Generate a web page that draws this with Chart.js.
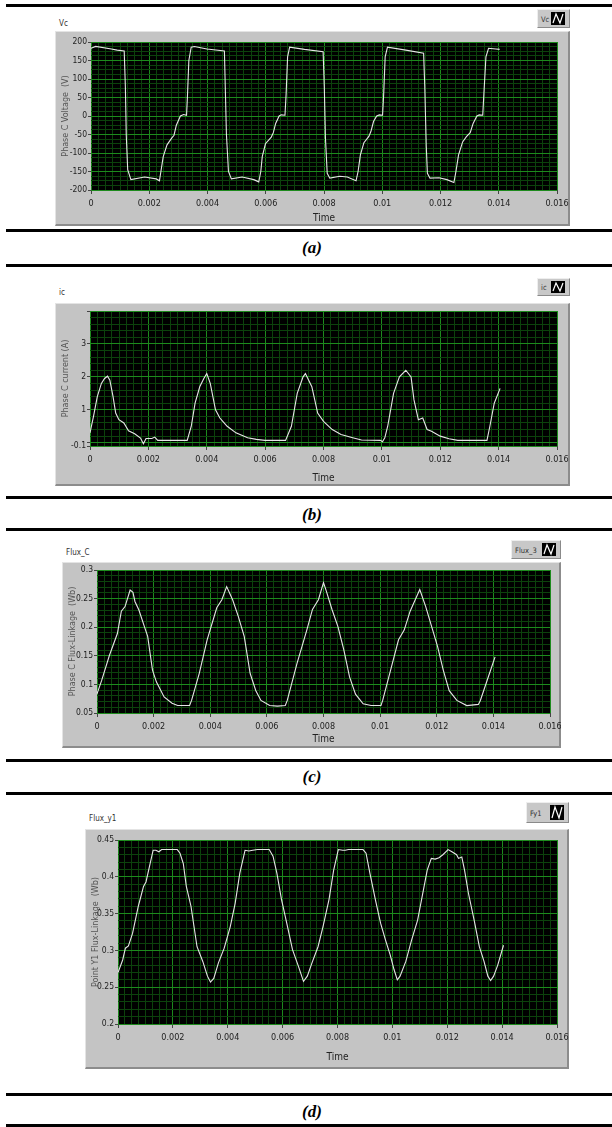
<!DOCTYPE html>
<html>
<head>
<meta charset="utf-8">
<script src="https://cdn.jsdelivr.net/npm/chart.js@4.4.0/dist/chart.umd.min.js"></script>
<style>
    body { margin: 0; background: #fff; width: 612px; height: 1127px; position: relative; overflow: hidden;
           font-family: 'Liberation Sans Narrow', 'DejaVu Sans Condensed', sans-serif; }
    .rule { position: absolute; left: 6px; width: 606px; height: 3px; background: #000; }
    .cap { position: absolute; left: 0; width: 624px; text-align: center; line-height: 20px;
           font: italic bold 17px 'Liberation Serif', 'DejaVu Serif', serif; }
    .frame { position: absolute; box-sizing: border-box; background: #c4c4c4;
             border-style: solid; border-width: 1px 2px 2px 1px; border-color: #e4e4e4 #8c8c8c #8c8c8c #e4e4e4; }
    .ttl { position: absolute; font-size: 8px; color: #333; }
    .leg { position: absolute; box-sizing: border-box; background: #c8c8c8; font-size: 7.5px; color: #333;
           border-style: solid; border-width: 1px; border-color: #eeeeee #8a8a8a #8a8a8a #eeeeee; }
    .leg span { position: absolute; left: 3px; top: 50%; transform: translateY(-50%); }
    .leg svg { position: absolute; }
    canvas { position: absolute; }
</style>
</head>
<body>
<div id="page"></div>
<script>
// ---- data ----
const xMajor = [0, 0.002, 0.004, 0.006, 0.008, 0.01, 0.012, 0.014, 0.016];
const xLabels = ['0', '0.002', '0.004', '0.006', '0.008', '0.01', '0.012', '0.014', '0.016'];

const yMajorA = [-200, -150, -100, -50, 0, 50, 100, 150, 200];
const yLabelsA = ['-200', '-150', '-100', '-50', '0', '50', '100', '150', '200'];
const yMajorB = [-0.1, 0, 1, 2, 3, 4];
const yLabelsB = ['-0.1', '', '1', '2', '3', ''];
const yMajorC = [0.05, 0.1, 0.15, 0.2, 0.25, 0.3];
const yLabelsC = ['0.05', '0.1', '0.15', '0.2', '0.25', '0.3'];
const yMajorD = [0.2, 0.25, 0.3, 0.35, 0.4, 0.45];
const yLabelsD = ['0.2', '0.25', '0.3', '0.35', '0.4', '0.45'];

// (a) phase C voltage
const tA = [0, 0.00016, 0.0007, 0.0009, 0.00114, 0.00118, 0.00121, 0.00126, 0.00137, 0.00184, 0.00224, 0.00235, 0.0024, 0.00248, 0.00261, 0.00277, 0.00285, 0.00293, 0.00307, 0.00318, 0.00328, 0.00331, 0.00336, 0.00344, 0.00355, 0.00398, 0.00458, 0.00461, 0.00465, 0.00472, 0.00482, 0.00519, 0.00559, 0.00576, 0.00583, 0.00588, 0.00599, 0.00619, 0.00626, 0.00634, 0.00646, 0.00653, 0.00666, 0.0067, 0.00675, 0.00682, 0.00733, 0.00797, 0.00801, 0.00805, 0.00811, 0.0082, 0.00854, 0.0088, 0.0091, 0.00917, 0.00925, 0.00937, 0.00954, 0.00961, 0.0097, 0.00981, 0.0099, 0.01001, 0.01005, 0.0101, 0.01018, 0.01081, 0.01142, 0.01146, 0.01151, 0.01155, 0.01164, 0.01195, 0.01222, 0.01246, 0.01253, 0.01262, 0.01276, 0.01289, 0.01302, 0.01312, 0.01325, 0.01333, 0.01345, 0.01349, 0.01356, 0.01365, 0.0139, 0.01403];
const vA = [183, 188, 181, 178, 176, 80, -50, -145, -172, -165, -170, -175, -150, -110, -78, -60, -52, -25, 0, 4, 2, 50, 150, 186, 188, 181, 176, 80, -50, -150, -170, -165, -172, -178, -150, -110, -75, -57, -45, -20, 0, 3, 2, 60, 160, 186, 180, 174, 80, -60, -155, -168, -163, -165, -175, -150, -105, -72, -55, -42, -15, 0, 3, 2, 60, 160, 186, 178, 170, 80, -80, -155, -168, -167, -172, -180, -150, -105, -70, -56, -45, -20, 0, 3, 2, 60, 160, 183, 181, 180];

// (b) phase C current
const tB = [0, 0.00012, 0.00025, 0.00039, 0.0005, 0.0006, 0.00068, 0.00079, 0.00088, 0.00099, 0.00116, 0.00132, 0.00153, 0.00173, 0.00183, 0.00192, 0.00212, 0.00222, 0.00232, 0.00333, 0.00347, 0.0036, 0.00376, 0.0039, 0.004, 0.00412, 0.0043, 0.00445, 0.00455, 0.0047, 0.005, 0.0054, 0.0057, 0.006, 0.0067, 0.0069, 0.0071, 0.0073, 0.00738, 0.0076, 0.0078, 0.008, 0.0083, 0.0086, 0.009, 0.0093, 0.00995, 0.01002, 0.0101, 0.0102, 0.0104, 0.0106, 0.01082, 0.011, 0.0111, 0.0112, 0.01125, 0.0114, 0.01155, 0.0117, 0.012, 0.0123, 0.0126, 0.0136, 0.0137, 0.01385, 0.01405];
const iB = [0.3, 0.8, 1.4, 1.8, 1.95, 2.02, 1.9, 1.4, 0.9, 0.7, 0.6, 0.36, 0.27, 0.14, -0.03, 0.13, 0.13, 0.17, 0.07, 0.07, 0.5, 1.2, 1.7, 1.95, 2.1, 1.8, 1.0, 0.75, 0.65, 0.5, 0.3, 0.15, 0.1, 0.07, 0.07, 0.5, 1.5, 2.0, 2.1, 1.7, 0.9, 0.65, 0.4, 0.25, 0.15, 0.08, 0.07, 0.03, 0.15, 0.5, 1.5, 2.0, 2.2, 2.0, 1.3, 0.9, 0.7, 0.75, 0.4, 0.35, 0.2, 0.12, 0.07, 0.07, 0.5, 1.2, 1.65];

// (c) phase C flux linkage
const tC = [0, 0.000165, 0.00044, 0.00072, 0.00086, 0.00099, 0.00117, 0.00127, 0.00134, 0.00148, 0.00168, 0.00179, 0.00196, 0.0021, 0.00237, 0.00265, 0.00285, 0.00327, 0.00334, 0.00361, 0.00389, 0.00423, 0.00441, 0.00458, 0.00479, 0.00499, 0.0052, 0.00541, 0.00561, 0.00579, 0.0061, 0.00637, 0.00665, 0.00672, 0.00706, 0.00741, 0.00761, 0.00782, 0.008, 0.0081, 0.0083, 0.00851, 0.00872, 0.00892, 0.00913, 0.0094, 0.00968, 0.01003, 0.01009, 0.01037, 0.01065, 0.01085, 0.01106, 0.01124, 0.0114, 0.01161, 0.01182, 0.01203, 0.01223, 0.01244, 0.01271, 0.01306, 0.01347, 0.01354, 0.01382, 0.01406];
const fC = [0.0835, 0.107, 0.151, 0.189, 0.228, 0.236, 0.265, 0.261, 0.245, 0.23, 0.2, 0.184, 0.125, 0.104, 0.078, 0.067, 0.063, 0.063, 0.072, 0.119, 0.178, 0.234, 0.248, 0.271, 0.248, 0.219, 0.184, 0.119, 0.089, 0.072, 0.063, 0.062, 0.063, 0.072, 0.136, 0.195, 0.231, 0.248, 0.278, 0.263, 0.231, 0.201, 0.16, 0.113, 0.083, 0.066, 0.063, 0.063, 0.072, 0.125, 0.178, 0.195, 0.228, 0.248, 0.266, 0.236, 0.201, 0.166, 0.125, 0.089, 0.072, 0.063, 0.065, 0.072, 0.113, 0.148];

// (d) point Y1 flux linkage
const tD = [0, 0.00017, 0.00027, 0.00038, 0.00053, 0.00074, 0.00093, 0.00102, 0.00117, 0.00128, 0.00138, 0.00149, 0.00159, 0.00181, 0.00216, 0.00226, 0.00238, 0.00249, 0.00266, 0.00288, 0.00309, 0.00326, 0.00337, 0.00349, 0.00366, 0.00387, 0.00409, 0.00427, 0.00444, 0.00463, 0.00477, 0.00491, 0.00508, 0.00551, 0.00565, 0.00579, 0.00596, 0.00615, 0.00636, 0.00658, 0.00676, 0.0069, 0.00707, 0.00729, 0.00747, 0.00769, 0.00786, 0.00803, 0.00819, 0.00828, 0.0084, 0.00893, 0.00904, 0.00918, 0.00938, 0.00957, 0.00975, 0.00992, 0.01006, 0.01018, 0.01028, 0.01049, 0.0107, 0.01092, 0.01113, 0.01127, 0.01142, 0.01156, 0.0117, 0.01184, 0.01203, 0.01217, 0.01234, 0.01241, 0.01253, 0.01263, 0.01277, 0.01298, 0.01317, 0.01334, 0.01348, 0.01358, 0.01369, 0.01384, 0.01405];
const fD = [0.27, 0.287, 0.303, 0.306, 0.323, 0.36, 0.387, 0.393, 0.418, 0.436, 0.436, 0.434, 0.437, 0.437, 0.437, 0.432, 0.418, 0.387, 0.36, 0.305, 0.285, 0.265, 0.257, 0.262, 0.283, 0.303, 0.332, 0.364, 0.405, 0.436, 0.435, 0.436, 0.437, 0.437, 0.428, 0.405, 0.369, 0.337, 0.301, 0.278, 0.258, 0.265, 0.283, 0.305, 0.332, 0.369, 0.409, 0.437, 0.436, 0.436, 0.437, 0.437, 0.432, 0.405, 0.369, 0.337, 0.314, 0.294, 0.274, 0.26, 0.265, 0.285, 0.314, 0.341, 0.382, 0.409, 0.425, 0.424, 0.426, 0.43, 0.437, 0.434, 0.43, 0.425, 0.427, 0.409, 0.378, 0.341, 0.305, 0.285, 0.265, 0.259, 0.265, 0.28, 0.307];

// ---- look ----
const MAJOR_GRID = '#1d8a1d';
const MINOR_GRID = '#0c420c';
const FONT_NARROW = "'Liberation Sans Narrow', 'DejaVu Sans Condensed', sans-serif";
const XMINOR = 0.00025;

const panels = [
    { cap: '(a)', capY: 238, rules: [4, 229], title: 'Vc', titlePos: [59, 19], leg: 'Vc', legBox: [537, 9, 33, 19],
      frame: [55, 31, 515, 195], pad: { l: 36, t: 11, r: 13, b: 36 }, timeGap: 1.6,
      t: tA, v: vA, yMin: -200, yMax: 200, yMajor: yMajorA, yLabels: yLabelsA, yMinor: 12.5,
      yTitle: 'Phase C Voltage  (V)' },
    { cap: '(b)', capY: 505, rules: [264, 496], title: 'ic', titlePos: [59, 288], leg: 'ic', legBox: [537, 278, 33, 18],
      frame: [55, 303, 515, 183], pad: { l: 35, t: 8, r: 13, b: 40 }, timeGap: 1.6,
      t: tB, v: iB, yMin: -0.1, yMax: 4, yMajor: yMajorB, yLabels: yLabelsB, yMinor: 0.2,
      yTitle: 'Phase C current (A)' },
    { cap: '(c)', capY: 767, rules: [528, 759], title: 'Flux_C', titlePos: [66, 548], leg: 'Flux_3', legBox: [511, 540, 50, 19],
      frame: [62, 562, 499, 186], pad: { l: 35, t: 8, r: 11, b: 35 }, timeGap: 2.6,
      t: tC, v: fC, yMin: 0.05, yMax: 0.3, yMajor: yMajorC, yLabels: yLabelsC, yMinor: 0.01,
      yTitle: 'Phase C Flux-Linkage  (Wb)' },
    { cap: '(d)', capY: 1102, rules: [792, 1093, 1124], title: 'Flux_y1', titlePos: [89, 814], leg: 'Fy1', legBox: [526, 802, 43, 21],
      frame: [85, 829, 484, 240], pad: { l: 33, t: 11, r: 12, b: 45 }, timeGap: 5.6,
      t: tD, v: fD, yMin: 0.2, yMax: 0.45, yMajor: yMajorD, yLabels: yLabelsD, yMinor: 0.01,
      yTitle: 'Point Y1 Flux-Linkage  (Wb)' }
];

const plotBg = {
    id: 'plotBg',
    beforeDraw(chart) {
        const { ctx, chartArea: a } = chart;
        ctx.save();
        ctx.fillStyle = '#000';
        ctx.fillRect(a.left, a.top, a.width, a.height);
        ctx.restore();
    }
};

function tickList(min, max, step, majors) {
    const out = majors.slice();
    const start = Math.ceil(min / step - 1e-9);
    for (let k = start; k * step <= max + step * 1e-6; k++) out.push(k * step);
    const uniq = [];
    out.sort((a, b) => a - b).forEach(v => {
        if (!uniq.length || Math.abs(v - uniq[uniq.length - 1]) > step * 1e-3) uniq.push(v);
    });
    return uniq.filter(v => v >= min - step * 1e-6 && v <= max + step * 1e-6);
}

function majorIndex(v, majors, span) {
    return majors.findIndex(m => Math.abs(m - v) < span * 1e-6);
}

const page = document.getElementById('page');

function addEl(tag, cls, style, text) {
    const el = document.createElement(tag);
    if (cls) el.className = cls;
    Object.assign(el.style, style);
    if (text) el.textContent = text;
    page.appendChild(el);
    return el;
}

function legendIcon(h) {
    return '<svg width="14" height="' + h + '" viewBox="0 0 14 ' + h + '"><rect width="14" height="' + h + '" fill="#000"/>' +
        '<polyline points="2,' + (h - 2) + ' 5,2 9,' + (h - 2) + ' 12,2" fill="none" stroke="#fff" stroke-width="1.2"/></svg>';
}

panels.forEach(p => {
    p.rules.forEach(y => addEl('div', 'rule', { top: y + 'px' }));
    addEl('div', 'cap', { top: p.capY + 'px' }, p.cap);
    addEl('div', 'ttl', { left: p.titlePos[0] + 'px', top: p.titlePos[1] + 'px' }, p.title);

    const [lx, ly, lw, lh] = p.legBox;
    const ih = lh - 6;
    const leg = addEl('div', 'leg', { left: lx + 'px', top: ly + 'px', width: lw + 'px', height: lh + 'px' });
    leg.innerHTML = '<span>' + p.leg + '</span>' + legendIcon(ih);
    const svg = leg.querySelector('svg');
    svg.style.right = '4px';
    svg.style.top = '2px';

    const [fx, fy, fw, fh] = p.frame;
    addEl('div', 'frame', { left: fx + 'px', top: fy + 'px', width: fw + 'px', height: fh + 'px' });
    const cv = addEl('canvas', '', { left: fx + 'px', top: fy + 'px' });
    cv.width = fw;
    cv.height = fh;

    const ySpan = p.yMax - p.yMin;
    const yTicks = tickList(p.yMin, p.yMax, p.yMinor, p.yMajor);
    const xTicks = tickList(0, 0.016, XMINOR, xMajor);
    const isMajorX = v => majorIndex(v, xMajor, 0.016) >= 0;
    const isMajorY = v => majorIndex(v, p.yMajor, ySpan) >= 0;

    new Chart(cv, {
        type: 'line',
        data: {
            datasets: [{
                data: p.t.map((t, i) => ({ x: t, y: p.v[i] })),
                borderColor: '#e6e6e6',
                borderWidth: 1.1,
                pointRadius: 0,
                tension: 0,
                fill: false
            }]
        },
        options: {
            responsive: false,
            animation: false,
            devicePixelRatio: 1,
            layout: { padding: { left: 0, top: p.pad.t, right: p.pad.r, bottom: 0 } },
            plugins: { legend: { display: false }, tooltip: { enabled: false } },
            scales: {
                x: {
                    type: 'linear', min: 0, max: 0.016,
                    afterBuildTicks: s => { s.ticks = xTicks.map(v => ({ value: v })); },
                    afterFit: s => { s.height = p.pad.b; s.paddingLeft = 0; s.paddingRight = 0; },
                    ticks: {
                        autoSkip: false, maxRotation: 0, minRotation: 0, padding: 4,
                        color: '#222', font: { family: FONT_NARROW, size: 9 },
                        callback: v => { const k = majorIndex(v, xMajor, 0.016); return k >= 0 ? xLabels[k] : ''; }
                    },
                    grid: {
                        color: c => isMajorX(c.tick.value) ? MAJOR_GRID : MINOR_GRID,
                        tickColor: c => isMajorX(c.tick.value) ? '#444' : 'rgba(0,0,0,0)',
                        tickLength: 4, lineWidth: 1
                    },
                    border: { display: false },
                    title: { display: true, text: 'Time', color: '#222', font: { family: FONT_NARROW, size: 10 },
                             padding: { top: 0, bottom: p.timeGap } }
                },
                y: {
                    type: 'linear', min: p.yMin, max: p.yMax,
                    afterBuildTicks: s => { s.ticks = yTicks.map(v => ({ value: v })); },
                    afterFit: s => { s.width = p.pad.l; s.paddingTop = 0; s.paddingBottom = 0; },
                    ticks: {
                        autoSkip: false, padding: 1, color: '#222', font: { family: FONT_NARROW, size: 8.5 },
                        callback: v => { const k = majorIndex(v, p.yMajor, ySpan); return k >= 0 ? p.yLabels[k] : ''; }
                    },
                    grid: {
                        color: c => isMajorY(c.tick.value) ? MAJOR_GRID : MINOR_GRID,
                        tickColor: c => isMajorY(c.tick.value) ? '#444' : 'rgba(0,0,0,0)',
                        tickLength: 3, lineWidth: 1
                    },
                    border: { display: false },
                    title: { display: true, text: p.yTitle, color: '#555',
                             font: { family: "'DejaVu Sans', Verdana, sans-serif", size: 8 },
                             padding: { top: 6, bottom: 0 } }
                }
            }
        },
        plugins: [plotBg]
    });
});
</script>
</body>
</html>
